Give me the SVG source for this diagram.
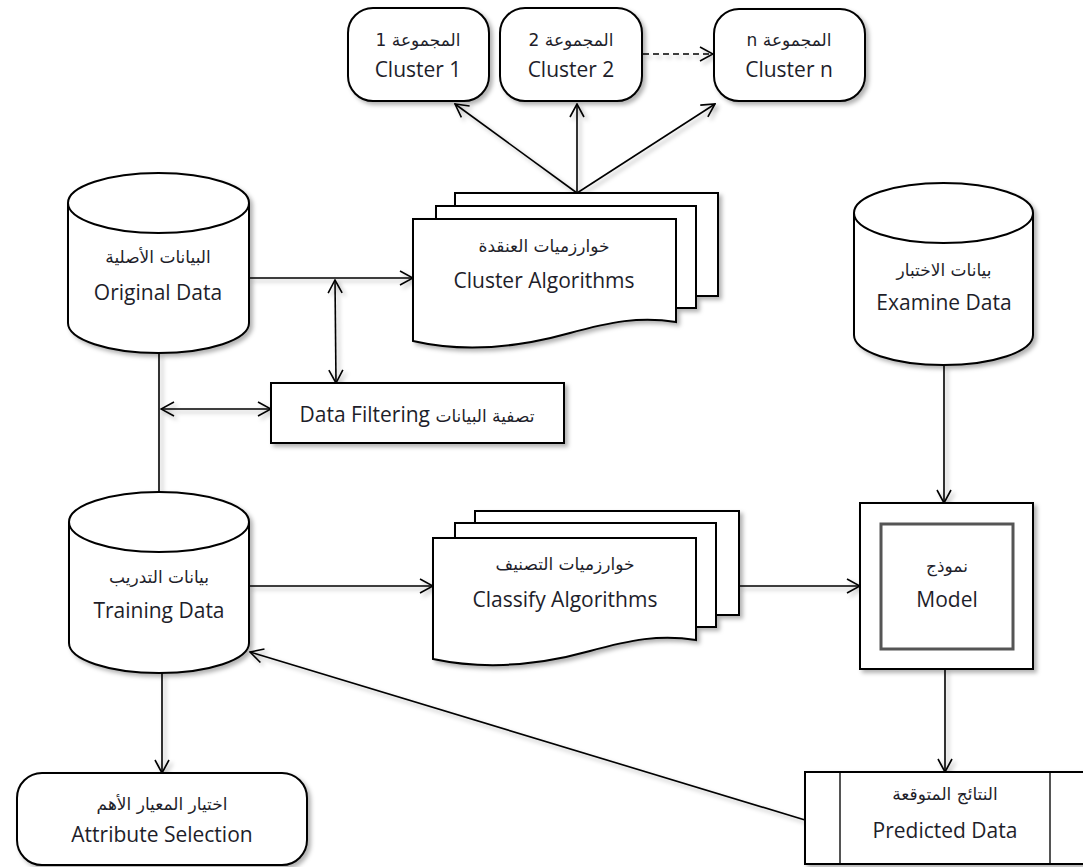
<svg xmlns="http://www.w3.org/2000/svg" width="1083" height="867" viewBox="0 0 1083 867">
  <style>
    .shape { fill: #ffffff; stroke: #000000; stroke-width: 2; }
    .inner { fill: none; stroke: #555555; stroke-width: 3; }
    .divider { stroke: #555555; stroke-width: 2; }
    .wire { fill: none; stroke: #000000; stroke-width: 1.6; }
    .dash { stroke-dasharray: 6 4; }
    .en { font-family: "Open Sans", "DejaVu Sans", sans-serif; font-size: 21px; fill: #1e1e2a; text-anchor: middle; }
    .ar { font-family: "DejaVu Sans", "Noto Sans", sans-serif; font-size: 17px; fill: #1e1e2a; text-anchor: middle; }
  </style>
  <defs>
    <filter id="shadow" filterUnits="userSpaceOnUse" x="0" y="0" width="1083" height="867">
      <feDropShadow dx="3" dy="3" stdDeviation="2" flood-color="#000000" flood-opacity="0.3"/>
    </filter>
    <marker id="arrow" viewBox="-1 -1 15 16" refX="13" refY="7" markerWidth="15" markerHeight="16" markerUnits="userSpaceOnUse" orient="auto-start-reverse">
      <path d="M0,0 L13,7 L0,14" fill="none" stroke="#000000" stroke-width="1.6"/>
    </marker>
  </defs>

  <rect width="1083" height="867" fill="#ffffff"/>

  <!-- connectors -->
  <g id="connectors" class="wire" filter="url(#shadow)">
    <line x1="577" y1="193" x2="455" y2="104" marker-end="url(#arrow)"/>
    <line x1="577" y1="193" x2="577" y2="104" marker-end="url(#arrow)"/>
    <line x1="577" y1="193" x2="715" y2="104" marker-end="url(#arrow)"/>
    <line class="dash" x1="643" y1="54" x2="713" y2="54" marker-end="url(#arrow)"/>
    <line x1="249" y1="278" x2="413" y2="278" marker-end="url(#arrow)"/>
    <line x1="335" y1="280" x2="336" y2="383" marker-start="url(#arrow)" marker-end="url(#arrow)"/>
    <line x1="159" y1="353" x2="159" y2="528" marker-end="url(#arrow)"/>
    <line x1="161" y1="409" x2="271" y2="409" marker-start="url(#arrow)" marker-end="url(#arrow)"/>
    <line x1="249" y1="586" x2="433" y2="586" marker-end="url(#arrow)"/>
    <line x1="739" y1="586" x2="860" y2="586" marker-end="url(#arrow)"/>
    <line x1="944" y1="365" x2="944" y2="503" marker-end="url(#arrow)"/>
    <line x1="945" y1="669" x2="945" y2="772" marker-end="url(#arrow)"/>
    <line x1="805" y1="820" x2="250" y2="652" marker-end="url(#arrow)"/>
    <line x1="162" y1="673" x2="162" y2="773" marker-end="url(#arrow)"/>
  </g>

  <!-- clusters -->
  <g id="cluster1">
    <rect class="shape" filter="url(#shadow)" x="348" y="8" width="141" height="93" rx="25"/>
    <text class="ar" x="418" y="46" direction="rtl">المجموعة 1</text>
    <text class="en" x="418" y="77">Cluster 1</text>
  </g>
  <g id="cluster2">
    <rect class="shape" filter="url(#shadow)" x="500" y="8" width="142" height="93" rx="25"/>
    <text class="ar" x="571" y="46" direction="rtl">المجموعة 2</text>
    <text class="en" x="571" y="77">Cluster 2</text>
  </g>
  <g id="clusterN">
    <rect class="shape" filter="url(#shadow)" x="714" y="9" width="151" height="92" rx="25"/>
    <text class="ar" x="789" y="46" direction="rtl">المجموعة n</text>
    <text class="en" x="789" y="77">Cluster n</text>
  </g>

  <!-- original data store -->
  <g id="original-data">
    <path class="shape" filter="url(#shadow)" d="M68,203 A90.5,30 0 0 1 249,203 V323 A90.5,30 0 0 1 68,323 Z"/>
    <path class="shape" fill="none" d="M68,203 A90.5,30 0 0 0 249,203"/>
    <text class="ar" x="158" y="263">البيانات الأصلية</text>
    <text class="en" x="158" y="300">Original Data</text>
  </g>

  <!-- cluster algorithms stack -->
  <g id="cluster-algorithms">
    <g filter="url(#shadow)">
      <rect class="shape" x="455" y="193" width="263" height="103"/>
      <rect class="shape" x="436" y="206" width="260" height="102"/>
      <path class="shape" d="M413,219 H676 V322 C640,316 610,322 570,333 C520,347 465,353 413,341 Z"/>
    </g>
    <text class="ar" x="544" y="252">خوارزميات العنقدة</text>
    <text class="en" x="544" y="288">Cluster Algorithms</text>
  </g>

  <!-- examine data store -->
  <g id="examine-data">
    <path class="shape" filter="url(#shadow)" d="M854,213 A89.5,30 0 0 1 1033,213 V335 A89.5,30 0 0 1 854,335 Z"/>
    <path class="shape" fill="none" d="M854,213 A89.5,30 0 0 0 1033,213"/>
    <text class="ar" x="944" y="276">بيانات الاختبار</text>
    <text class="en" x="944" y="310">Examine Data</text>
  </g>

  <!-- data filtering -->
  <g id="data-filtering">
    <rect class="shape" filter="url(#shadow)" x="271" y="383" width="293" height="60"/>
    <text class="en" x="417" y="422">Data Filtering <tspan class="ar" style="font-size:17px">تصفية البيانات</tspan></text>
  </g>

  <!-- training data store -->
  <g id="training-data">
    <path class="shape" filter="url(#shadow)" d="M69,522 A90,30 0 0 1 249,522 V643 A90,30 0 0 1 69,643 Z"/>
    <path class="shape" fill="none" d="M69,522 A90,30 0 0 0 249,522"/>
    <text class="ar" x="159" y="583">بيانات التدريب</text>
    <text class="en" x="159" y="618">Training Data</text>
  </g>

  <!-- classify algorithms stack -->
  <g id="classify-algorithms">
    <g filter="url(#shadow)">
      <rect class="shape" x="475" y="511" width="264" height="104"/>
      <rect class="shape" x="455" y="523" width="261" height="104"/>
      <path class="shape" d="M433,538 H696 V640 C660,634 630,640 590,651 C540,665 485,670 433,659 Z"/>
    </g>
    <text class="ar" x="565" y="570">خوارزميات التصنيف</text>
    <text class="en" x="565" y="607">Classify Algorithms</text>
  </g>

  <!-- model -->
  <g id="model">
    <rect class="shape" filter="url(#shadow)" x="860" y="503" width="173" height="166"/>
    <rect class="inner" x="881" y="524" width="132" height="125"/>
    <text class="ar" x="947" y="572">نموذج</text>
    <text class="en" x="947" y="607">Model</text>
  </g>

  <!-- attribute selection -->
  <g id="attribute-selection">
    <rect class="shape" filter="url(#shadow)" x="17" y="773" width="290" height="92" rx="25"/>
    <text class="ar" x="162" y="810">اختيار المعيار الأهم</text>
    <text class="en" x="162" y="842">Attribute Selection</text>
  </g>

  <!-- predicted data -->
  <g id="predicted-data">
    <rect class="shape" filter="url(#shadow)" x="805" y="772" width="280" height="92"/>
    <line class="divider" x1="840" y1="773" x2="840" y2="863"/>
    <line class="divider" x1="1050" y1="773" x2="1050" y2="863"/>
    <text class="ar" x="945" y="800">النتائج المتوقعة</text>
    <text class="en" x="945" y="838">Predicted Data</text>
  </g>
</svg>
